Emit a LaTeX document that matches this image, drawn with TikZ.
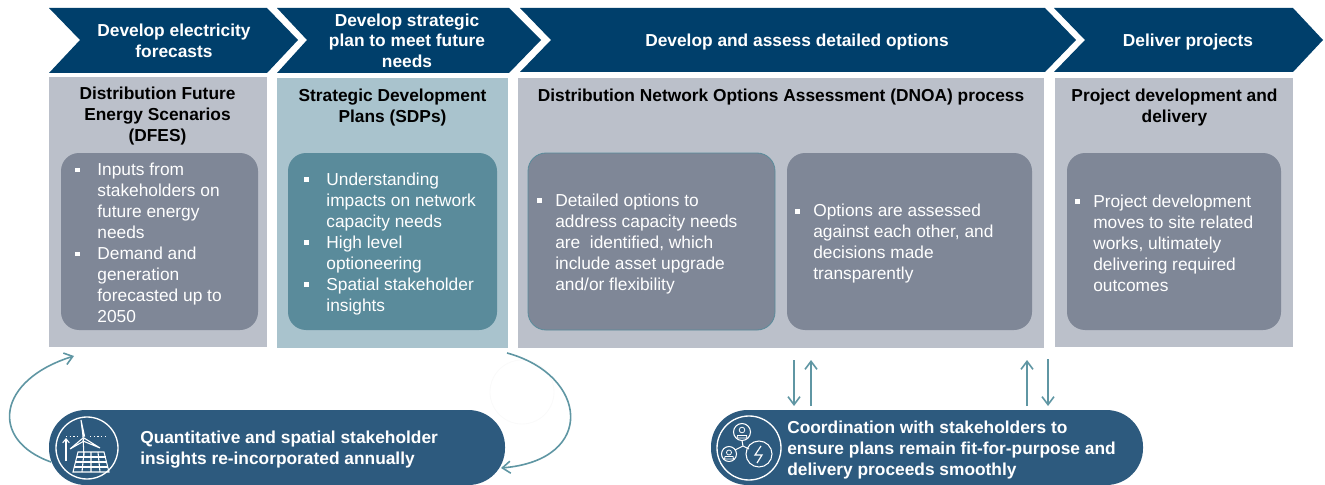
\documentclass[tikz,border=0pt]{standalone}
\usepackage{fontspec}
\setmainfont{Liberation Sans}
\usetikzlibrary{arrows.meta}
\definecolor{chev}{HTML}{003F6B}
\definecolor{boxgray}{HTML}{BBC0CA}
\definecolor{innergray}{HTML}{7F8797}
\definecolor{boxteal}{HTML}{A9C3CD}
\definecolor{innerteal}{HTML}{5A8B9B}
\definecolor{pill}{HTML}{2D5A7E}
\definecolor{arrowc}{HTML}{5F96A3}
\newcommand{\blt}{\makebox[16.6pt][l]{\rule[2.6pt]{3.4pt}{3.4pt}}}
\newcommand{\ind}{\hspace*{16.6pt}}
\newcommand{\bltb}{\makebox[13.5pt][l]{\rule[2.6pt]{3.4pt}{3.4pt}}}
\newcommand{\indb}{\hspace*{13.5pt}}
\tikzset{
 x=0.75pt,y=-0.75pt,
 chevron/.style={fill=chev,draw=none},
 chevlabel/.style={text=white,font=\fontsize{13}{15.5}\selectfont\bfseries,align=center,inner sep=0pt},
 paneltitle/.style={text=black,font=\fontsize{13}{15.75}\selectfont\bfseries,align=center,inner sep=0pt},
 inner/.style={rounded corners=13.5pt},
 bullets/.style={text=white,font=\fontsize{13}{15.75}\selectfont,align=left,inner sep=0pt,anchor=west},
 pillshape/.style={fill=pill,rounded corners=27.5pt},
 pilltext/.style={text=white,font=\fontsize{13}{15.75}\selectfont\bfseries,align=left,inner sep=0pt,anchor=west},
 icon/.style={draw=white,line width=0.8pt},
 flow/.style={draw=arrowc,line width=1.2pt,-{Straight Barb[length=6pt,width=9pt,line width=1.2pt]}},
}
\begin{document}
\begin{tikzpicture}
\useasboundingbox (0,0) rectangle (1325,485);
% chevrons
\fill[chevron] (49,8)--(267,8)--(298,40)--(267,73)--(49,73)--(80,40)--cycle;
\fill[chevron] (277,8)--(509,8)--(541,40)--(509,73)--(277,73)--(307,40)--cycle;
\fill[chevron] (520,8)--(1045,8)--(1076,40)--(1045,72)--(520,72)--(551,40)--cycle;
\fill[chevron] (1054,8)--(1293,8)--(1323,40)--(1293,72)--(1054,72)--(1085,40)--cycle;
\node[chevlabel] (c1) at (174,41) {Develop electricity\\forecasts};
\node[chevlabel] (c2) at (407,40.5) {Develop strategic\\plan to meet future\\needs};
\node[chevlabel] (c3) at (797,42) {Develop and assess detailed options};
\node[chevlabel] (c4) at (1188,42) {Deliver projects};
% panels
\fill[boxgray] (49,77) rectangle (267,347);
\fill[boxteal] (277,78) rectangle (508,348);
\fill[boxgray] (518,78) rectangle (1044,348);
\fill[boxgray] (1055,78) rectangle (1293,347);
\node[paneltitle] (t1) at (157.5,116) {Distribution Future\\Energy Scenarios\\(DFES)};
\node[paneltitle] (t2) at (392.5,107.5) {Strategic Development\\Plans (SDPs)};
\node[paneltitle] (t3) at (781,97.5) {Distribution Network Options Assessment (DNOA) process};
\node[paneltitle] (t4) at (1174.5,107.5) {Project development and\\delivery};
% inner boxes
\fill[inner,innergray] (61,153) rectangle (258,330);
\fill[inner,innerteal] (288,153) rectangle (497,330);
\fill[inner,innergray,draw=innerteal,line width=0.6pt] (528,153) rectangle (775,330);
\fill[inner,innergray] (787,153) rectangle (1032,330);
\fill[inner,innergray] (1067,153) rectangle (1281,330);
\node[bullets] (b1) at (75,243) {\blt Inputs from\\\ind stakeholders on\\\ind future energy\\\ind needs\\\blt Demand and\\\ind generation\\\ind forecasted up to\\\ind 2050};
\node[bullets] (b2) at (304,244) {\blt Understanding\\\ind impacts on network\\\ind capacity needs\\\blt High level\\\ind optioneering\\\blt Spatial stakeholder\\\ind insights};
\node[bullets] (b3) at (537,244) {\bltb Detailed options to\\\indb address capacity needs\\\indb are\ \ identified, which\\\indb include asset upgrade\\\indb and/or flexibility};
\node[bullets] (b4) at (795,244) {\bltb Options are assessed\\\indb against each other, and\\\indb decisions made\\\indb transparently};
\node[bullets] (b5) at (1075,243) {\bltb Project development\\\indb moves to site related\\\indb works, ultimately\\\indb delivering required\\\indb outcomes};
% pills
\fill[pillshape] (49,410) rectangle (505,485);
\fill[pillshape] (711,410) rectangle (1143,485);
\node[pilltext] (p1) at (140,449.5) {Quantitative and spatial stakeholder\\insights re-incorporated annually};
\node[pilltext] (p2) at (787,450) {Coordination with stakeholders to\\ensure plans remain fit-for-purpose and\\delivery proceeds smoothly};
% left icon
\draw[icon,line width=1pt] (87,448) circle (31);
\draw[icon] (83,436)--(84,457);
\draw[icon,fill=white] (83,436)--(81,420)--(84.5,436)--cycle;
\draw[icon,fill=pill] (83,438)--(70,449)--(84,441)--cycle;
\draw[icon,fill=pill] (84,438)--(100,448)--(83,441)--cycle;
\draw[icon] (73,472)--(78,452)--(104,452)--(109,472)--cycle;
\draw[icon] (75.5,462)--(106.5,462) (74,467)--(108,467) (76.5,457)--(105.5,457);
\draw[icon] (84,452)--(82,472) (91,452)--(91,472) (98,452)--(100,472);
\draw[icon,-{Straight Barb[length=3pt,width=5pt]}] (66,461)--(66,438);
\draw[icon,dotted,line width=0.6pt] (66,436)--(78,436) (90,436)--(106,436);
% right icon
\draw[icon,line width=1pt] (749,448) circle (32);
\draw[icon] (742,432) circle (8.5);
\draw[icon] (729,454) circle (7.5);
\draw[icon] (759,454) circle (13);
\draw[icon] (742,440.5)--(743,446)--(735,450) (743,446)--(749,449);
\draw[icon,line width=0.9pt] (761,446)--(755,455)--(762,455)--(757,463);
\draw[icon,line width=0.6pt] (742,430) circle (2.8) (737,438)--(737.5,435.5)--(746.5,435.5)--(747,438)--cycle;
\draw[icon,line width=0.6pt] (729,452.5) circle (2.5) (724.5,459)--(725,456.5)--(733,456.5)--(733.5,459)--cycle;
% ghost icon
\draw[draw=black!2,line width=0.7pt] (522,392) circle (32);
% connectors
\coordinate (la) at (51,462); \coordinate (lb) at (74,356);
\coordinate (ra) at (507,353); \coordinate (rb) at (501,468);
\draw[flow] (la) .. controls (-11,440) and (-3,380) .. (lb);
\draw[flow] (ra) .. controls (588,375) and (597,460) .. (rb);
\coordinate (d1a) at (794,360); \coordinate (d1b) at (794,406);
\coordinate (u1a) at (811,406); \coordinate (u1b) at (811,360);
\coordinate (u2a) at (1027,406); \coordinate (u2b) at (1027,360);
\coordinate (d2a) at (1048,359); \coordinate (d2b) at (1048,406);
\draw[flow] (d1a)--(d1b);
\draw[flow] (u1a)--(u1b);
\draw[flow] (u2a)--(u2b);
\draw[flow] (d2a)--(d2b);
\end{tikzpicture}
\end{document}
